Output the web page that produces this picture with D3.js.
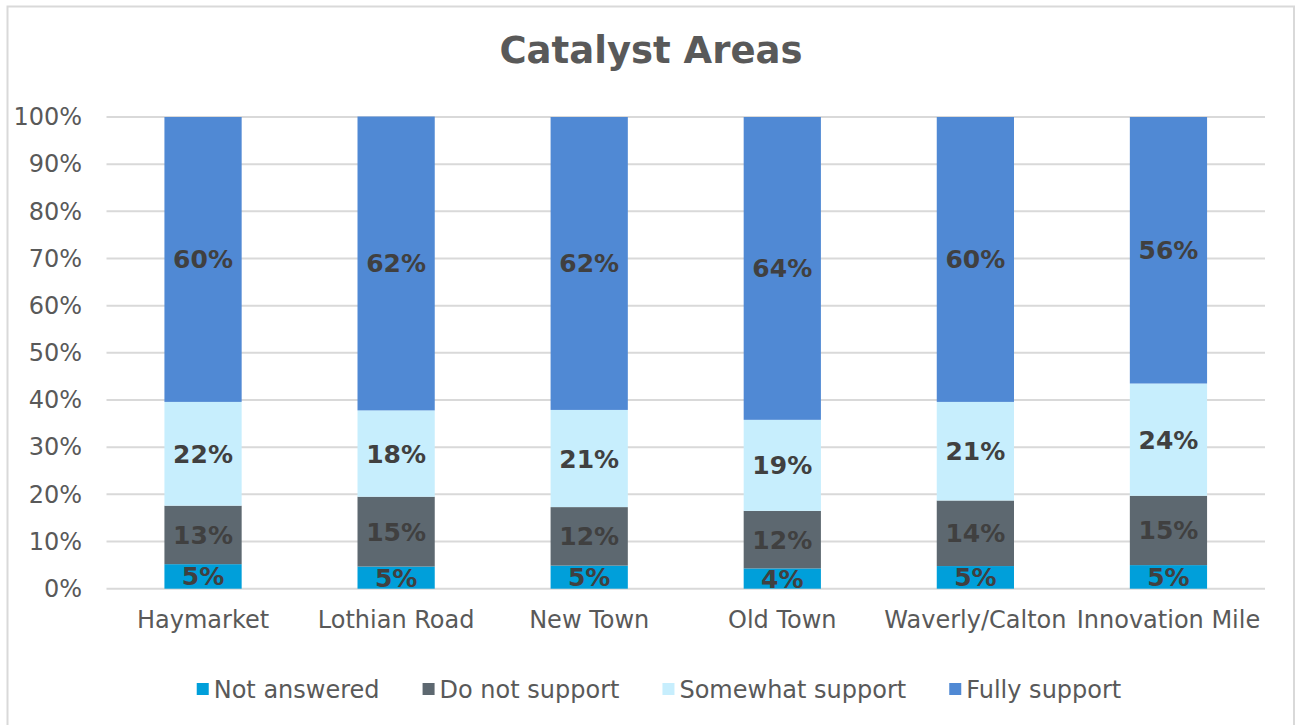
<!DOCTYPE html>
<html>
<head>
<meta charset="utf-8">
<script src="https://cdn.jsdelivr.net/npm/d3@7"></script>
<style>
  html, body { margin: 0; padding: 0; background: #ffffff; }
  svg { display: block; }
</style>
</head>
<body>
<svg id="chart" width="1299" height="725"></svg>
<script>
const title = "Catalyst Areas";
const categories = ["Haymarket", "Lothian Road", "New Town", "Old Town", "Waverly/Calton", "Innovation Mile"];
const seriesNames = ["Not answered", "Do not support", "Somewhat support", "Fully support"];
const notAnswered     = [5.2, 4.7, 4.9, 4.3, 4.8, 5.0];
const doNotSupport    = [12.4, 14.8, 12.4, 12.2, 13.9, 14.7];
const somewhatSupport = [22.0, 18.3, 20.6, 19.3, 20.9, 23.8];
const fullySupport    = [60.4, 62.3, 62.1, 64.2, 60.4, 56.5];
const labelsNA  = ["5%", "5%", "5%", "4%", "5%", "5%"];
const labelsDNS = ["13%", "15%", "12%", "12%", "14%", "15%"];
const labelsSS  = ["22%", "18%", "21%", "19%", "21%", "24%"];
const labelsFS  = ["60%", "62%", "62%", "64%", "60%", "56%"];
const yTicks = [0, 10, 20, 30, 40, 50, 60, 70, 80, 90, 100];
const colors = ["#009FDA", "#5D6870", "#C7EEFD", "#5089D4"];

const seriesValues = [notAnswered, doNotSupport, somewhatSupport, fullySupport];
const seriesLabels = [labelsNA, labelsDNS, labelsSS, labelsFS];

const svg = d3.select("#chart");
const W = 1299, H = 725;
const plot = { left: 106.5, right: 1265, top: 117, bottom: 588.7 };
const FONT = "'DejaVu Sans', Verdana, sans-serif";

// frame
svg.append("rect")
  .attr("x", 7.5).attr("y", 6.5)
  .attr("width", 1286.5).attr("height", 722)
  .attr("fill", "#ffffff").attr("stroke", "#D9D9D9").attr("stroke-width", 2);

// title
svg.append("text")
  .attr("x", 651).attr("y", 63)
  .attr("text-anchor", "middle")
  .attr("font-family", FONT).attr("font-weight", "bold")
  .attr("font-size", 37).attr("fill", "#595959")
  .text(title);

const x = d3.scaleBand()
  .domain(categories)
  .range([plot.left, plot.right])
  .paddingInner(0.6).paddingOuter(0.3);

const y = d3.scaleLinear().domain([0, 100]).range([plot.bottom, plot.top]);

// gridlines
svg.append("g").selectAll("line")
  .data(yTicks).join("line")
  .attr("x1", plot.left).attr("x2", plot.right)
  .attr("y1", d => y(d)).attr("y2", d => y(d))
  .attr("stroke", "#D9D9D9").attr("stroke-width", 2);

// y axis labels
const yAxis = d3.axisLeft(y).tickValues(yTicks).tickFormat(d => d + "%").tickSize(0).tickPadding(0);
const gy = svg.append("g").attr("transform", `translate(82,0)`).call(yAxis);
gy.select(".domain").remove();
gy.selectAll("text")
  .attr("font-family", FONT).attr("font-size", 24).attr("fill", "#595959");

// stacked data
const rows = categories.map((c, i) => {
  const o = { cat: c };
  seriesNames.forEach((s, k) => { o[s] = seriesValues[k][i]; });
  return o;
});
const stack = d3.stack().keys(seriesNames);
const stacked = stack(rows);

const gBars = svg.append("g");
stacked.forEach((layer, k) => {
  gBars.append("g").selectAll("rect")
    .data(layer).join("rect")
    .attr("x", d => x(d.data.cat))
    .attr("width", x.bandwidth())
    .attr("y", d => y(d[1]))
    .attr("height", d => y(d[0]) - y(d[1]))
    .attr("fill", colors[k]);
});

// data labels
stacked.forEach((layer, k) => {
  gBars.append("g").selectAll("text")
    .data(layer).join("text")
    .attr("x", d => x(d.data.cat) + x.bandwidth() / 2)
    .attr("y", d => (y(d[0]) + y(d[1])) / 2)
    .attr("dy", "0.36em")
    .attr("text-anchor", "middle")
    .attr("font-family", FONT).attr("font-weight", "bold")
    .attr("font-size", 25).attr("fill", "#404040")
    .text((d, i) => seriesLabels[k][i]);
});

// x axis labels
const xAxis = d3.axisBottom(x).tickSize(0).tickPadding(0);
const gx = svg.append("g").attr("transform", `translate(0,${plot.bottom})`).call(xAxis);
gx.select(".domain").remove();
gx.selectAll("text")
  .attr("y", 39).attr("dy", 0)
  .attr("font-family", FONT).attr("font-size", 24).attr("fill", "#595959");

// legend
const legend = svg.append("g");
const legendY = 689;
const items = legend.selectAll("g").data(seriesNames).join("g");
items.append("rect")
  .attr("width", 12).attr("height", 12)
  .attr("y", legendY - 6)
  .attr("fill", (d, i) => colors[i]);
items.append("text")
  .attr("x", 17).attr("y", legendY).attr("dy", "0.36em")
  .attr("font-family", FONT).attr("font-size", 24).attr("fill", "#595959")
  .text(d => d);
let cursor = 0;
const offsets = [];
items.each(function() {
  const tw = d3.select(this).select("text").node().getComputedTextLength();
  offsets.push(cursor);
  cursor += 17 + tw + 43;
});
const totalW = cursor - 43;
const startX = 659 - totalW / 2;
items.attr("transform", (d, i) => `translate(${startX + offsets[i]},0)`);
</script>
</body>
</html>
